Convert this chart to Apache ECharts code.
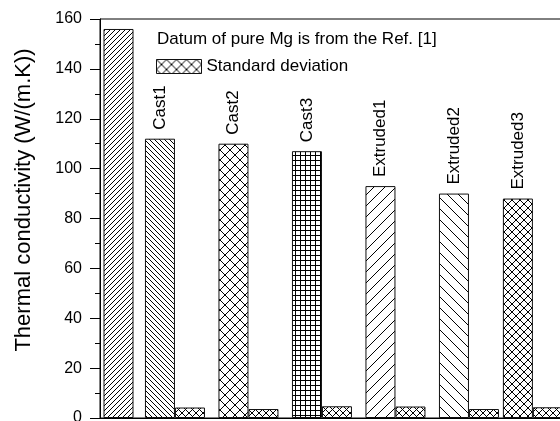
<!DOCTYPE html>
<html>
<head>
<meta charset="utf-8">
<script src="https://cdn.jsdelivr.net/npm/echarts@6/dist/echarts.min.js"></script>
<style>html,body{margin:0;padding:0;background:#fff;}#c{width:560px;height:421px;}</style>
</head>
<body>
<div id="c"></div>
<script>
// ---- data ----
const categories = ['Pure Mg', 'Cast1', 'Cast2', 'Cast3', 'Extruded1', 'Extruded2', 'Extruded3'];
const xValues = [1.436, 2, 3, 4, 5, 6, 6.87];           // x value of each sample group
const conductivity = [156, 112, 110, 107, 93, 90, 88];   // W/(m.K)
const stdDev = [null, 4.2, 3.6, 4.7, 4.6, 3.6, 4.3];
const yMin = 0, yMax = 160, yStep = 20;
const legendDatum = 'Datum of pure Mg is from the Ref. [1]';
const legendStd = 'Standard deviation';
const yTitle = 'Thermal conductivity (W/(m.K))';

// ---- hatch patterns ----
function makePattern(type, p) {
  const c = document.createElement('canvas');
  c.width = p; c.height = p;
  const g = c.getContext('2d');
  g.fillStyle = '#fff'; g.fillRect(0, 0, p, p);
  g.strokeStyle = '#000'; g.lineWidth = 1;
  g.beginPath();
  if (type.indexOf('/') >= 0) {
    g.moveTo(-1, p + 1); g.lineTo(p + 1, -1);
    g.moveTo(-1, 1); g.lineTo(1, -1);
    g.moveTo(p - 1, p + 1); g.lineTo(p + 1, p - 1);
  }
  if (type.indexOf('\\') >= 0) {
    g.moveTo(-1, -1); g.lineTo(p + 1, p + 1);
    g.moveTo(p - 1, -1); g.lineTo(p + 1, 1);
    g.moveTo(-1, p - 1); g.lineTo(1, p + 1);
  }
  if (type.indexOf('+') >= 0) {
    g.moveTo(0.5, 0); g.lineTo(0.5, p);
    g.moveTo(0, 0.5); g.lineTo(p, 0.5);
  }
  g.stroke();
  return { image: c, repeat: 'repeat' };
}
const mainPatterns = [
  makePattern('/', 5), makePattern('\\', 5), makePattern('/\\', 10), makePattern('+', 5),
  makePattern('/', 11), makePattern('\\', 11), makePattern('/\\', 8)
];
const stdPattern = makePattern('/\\', 7);
const legendPattern = makePattern('/\\', 10);

const font = 'Liberation Sans, Arial, sans-serif';
const border = { borderColor: '#111', borderWidth: 1 };

const mainData = categories.map((name, i) => ({
  name: name,
  value: [xValues[i], conductivity[i]],
  itemStyle: Object.assign({ color: mainPatterns[i] }, border),
  label: { show: i > 0 }
}));
const stdData = [];
stdDev.forEach((v, i) => {
  if (v != null) stdData.push({ value: [xValues[i], v], itemStyle: Object.assign({ color: stdPattern }, border) });
});

const chart = echarts.init(document.getElementById('c'));
chart.setOption({
  animation: false,
  backgroundColor: '#fff',
  grid: { left: 100, right: -17, top: 19, bottom: 3, containLabel: false, outerBoundsMode: 'none',
          show: true, borderColor: '#000', borderWidth: 1, backgroundColor: 'transparent' },
  xAxis: {
    type: 'value', min: 0.98, max: 7.47,
    axisLine: { show: true, lineStyle: { color: '#000', width: 1 } },
    axisTick: { show: false }, axisLabel: { show: false }, splitLine: { show: false }
  },
  yAxis: {
    type: 'value', min: yMin, max: yMax, interval: yStep,
    axisLine: { show: true, lineStyle: { color: '#000', width: 1 } },
    axisTick: { show: true, inside: false, length: 10, lineStyle: { color: '#000' } },
    minorTick: { show: true, splitNumber: 2, length: 5, lineStyle: { color: '#000' } },
    axisLabel: { color: '#000', fontSize: 16, fontFamily: font, margin: 18 },
    splitLine: { show: false }
  },
  legend: {
    left: 151, top: 53, padding: 5, itemWidth: 45, itemHeight: 14,
    textStyle: { color: '#000', fontSize: 17, fontFamily: font },
    data: [{ name: legendStd, icon: 'rect', itemStyle: { color: legendPattern, borderColor: '#111', borderWidth: 1 } }]
  },
  graphic: [
    { type: 'text', left: 157, top: 31, style: { text: legendDatum, fill: '#000', font: '17px ' + font } },
    { type: 'text', x: 24, y: 200, rotation: Math.PI / 2,
      style: { text: yTitle, fill: '#000', font: '22px ' + font, textAlign: 'center', textVerticalAlign: 'middle' } }
  ],
  series: [
    {
      name: 'Thermal conductivity', type: 'bar', barWidth: 30, barGap: '0%',
      data: mainData,
      label: {
        show: true, position: 'top', rotate: 90, distance: 9, align: 'left', verticalAlign: 'middle',
        color: '#000', fontSize: 17, fontFamily: font,
        formatter: p => categories[p.dataIndex]
      }
    },
    {
      name: legendStd, type: 'bar', barWidth: 30, barGap: '0%',
      data: stdData
    }
  ]
});
</script>
</body>
</html>
